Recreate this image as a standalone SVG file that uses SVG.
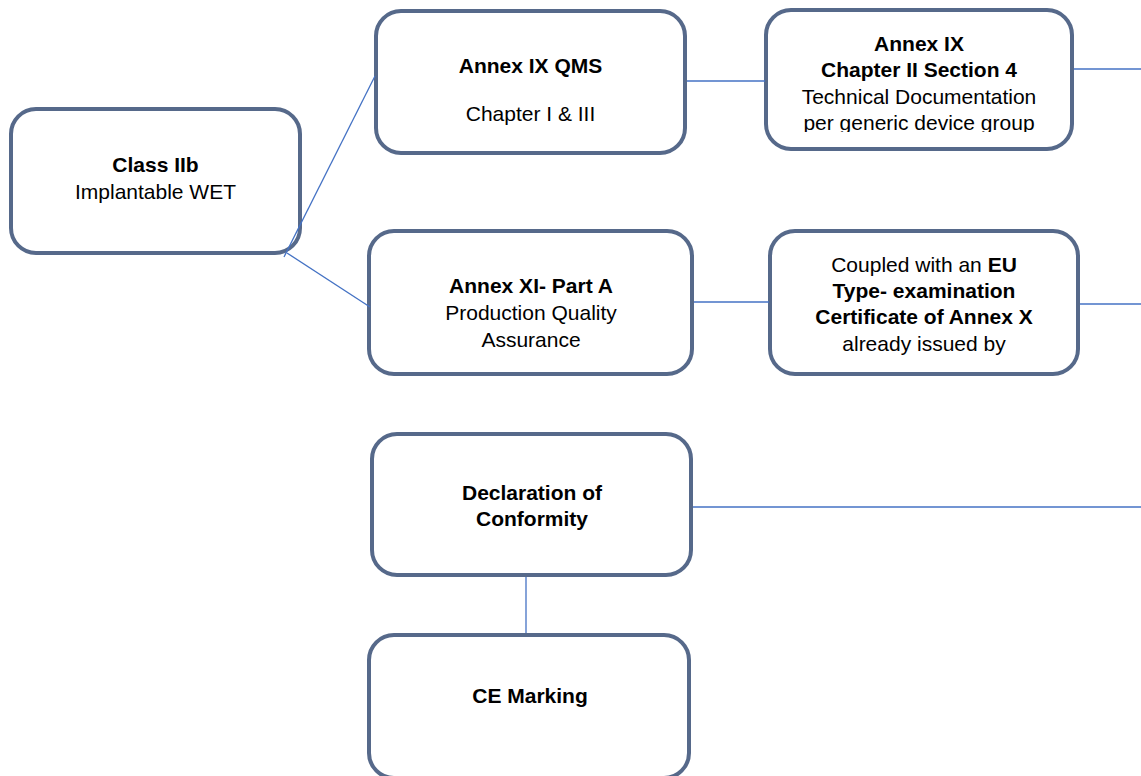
<svg xmlns="http://www.w3.org/2000/svg" width="1141" height="776" viewBox="0 0 1141 776">
<style>
.box{fill:#ffffff;stroke:#56698a;stroke-width:4}
.con{stroke:#4472c4;stroke-width:1.3;fill:none}
text{font-family:"Liberation Sans",Arial,sans-serif;font-size:21px;fill:#000;text-anchor:middle}
.b{font-weight:bold}
</style>
<defs>
<clipPath id="clipCh"><rect x="760" y="0" width="320" height="132"/></clipPath>
</defs>
<rect width="1141" height="776" fill="#ffffff"/>
<g id="node-class">
<rect class="box" x="11" y="109" width="289" height="144" rx="25"/>
<text x="155.5" y="172" class="b">Class IIb</text>
<text x="155.5" y="199">Implantable WET</text>
</g>
<g id="node-qms">
<rect class="box" x="376" y="11" width="309" height="142" rx="25"/>
<text x="530.5" y="73" class="b">Annex IX QMS</text>
<text x="530.5" y="121">Chapter I &amp; III</text>
</g>
<g id="node-ch2">
<rect class="box" x="766" y="10" width="306" height="139" rx="25"/>
<g clip-path="url(#clipCh)">
<text x="919" y="51" class="b">Annex IX</text>
<text x="919" y="77" class="b">Chapter II Section 4</text>
<text x="919" y="104">Technical Documentation</text>
<text x="919" y="130">per generic device group</text>
</g>
</g>
<g id="node-xi">
<rect class="box" x="369" y="231" width="323" height="143" rx="25"/>
<text x="531" y="293" class="b">Annex XI- Part A</text>
<text x="531" y="320">Production Quality</text>
<text x="531" y="347">Assurance</text>
</g>
<g id="node-coupled">
<rect class="box" x="770" y="231" width="308" height="143" rx="25"/>
<text x="924" y="272">Coupled with an <tspan class="b">EU</tspan></text>
<text x="924" y="298" class="b">Type- examination</text>
<text x="924" y="324" class="b">Certificate of Annex X</text>
<text x="924" y="351">already issued by</text>
</g>
<g id="node-doc">
<rect class="box" x="372" y="434" width="319" height="141" rx="25"/>
<text x="532" y="500" class="b">Declaration of</text>
<text x="532" y="526" class="b">Conformity</text>
</g>
<g id="node-ce">
<rect class="box" x="369" y="635" width="320" height="143" rx="25"/>
<text x="530" y="703" class="b">CE Marking</text>
</g>
<g id="connectors">
<line class="con" x1="284" y1="257" x2="375" y2="76"/>
<line class="con" x1="287" y1="253" x2="370" y2="307"/>
<line class="con" x1="687" y1="81" x2="765" y2="81"/>
<line class="con" x1="1074" y1="69" x2="1141" y2="69"/>
<line class="con" x1="694" y1="302" x2="769" y2="302"/>
<line class="con" x1="1080" y1="304" x2="1141" y2="304"/>
<line class="con" x1="693" y1="507" x2="1141" y2="507"/>
<line class="con" x1="526" y1="577" x2="526" y2="633"/>
</g>
</svg>
